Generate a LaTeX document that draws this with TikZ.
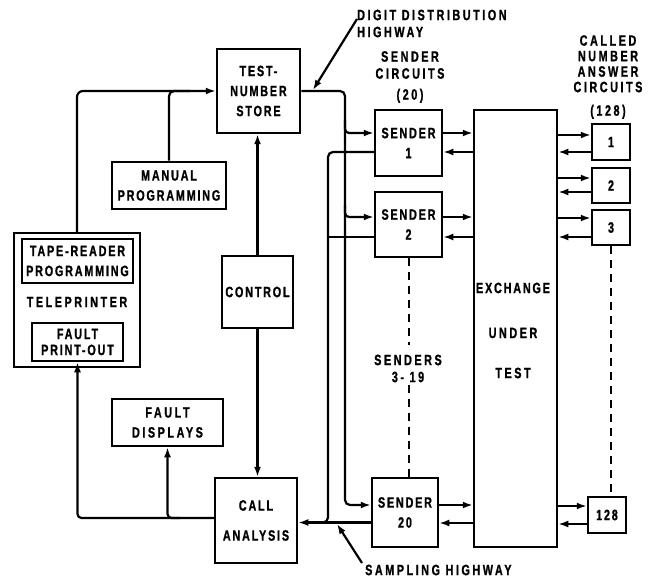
\documentclass[tikz,border=0pt]{standalone}
\usepackage{fontspec}
\newfontfamily\lab{Liberation Sans}[UprightFont={* Bold},FakeStretch=0.72,FakeBold=1,LetterSpace=12]
\newfontfamily\labw{Liberation Sans}[UprightFont={* Bold},FakeStretch=0.72,FakeBold=1,LetterSpace=17]
\usetikzlibrary{arrows.meta}
\begin{document}
\begin{tikzpicture}[x=1pt,y=-1pt,
  box/.style={draw,line width=2.5pt,inner sep=0pt,align=center,font=\lab\fontsize{15}{20}\selectfont},
  wire/.style={line width=2.2pt},
  arr/.style={wire,-{Latex[length=10pt,width=7pt]}},
  dsh/.style={line width=2pt,dash pattern=on 8pt off 6pt},
  txt/.style={inner sep=0pt,align=center,font=\lab\fontsize{15}{16}\selectfont},
  txw/.style={inner sep=0pt,align=center,font=\labw\fontsize{15}{16}\selectfont}]
\useasboundingbox (0,0) rectangle (655,580);

% boxes
\node[box,minimum width=83pt,minimum height=84pt] (store) at (258.5,91) {TEST-\\NUMBER\\STORE};
\node[box,minimum width=114pt,minimum height=47pt] (man) at (169,185.5) {MANUAL\\PROGRAMMING};
\node[box,minimum width=126pt,minimum height=134pt] (tele) at (77,300) {};
\node[box,minimum width=111pt,minimum height=44pt] (tape) at (77.5,261) {TAPE-READER\\PROGRAMMING};
\node[txw] (telet) at (77,302) {TELEPRINTER};
\node[box,minimum width=91pt,minimum height=38pt,font=\lab\fontsize{15}{16}\selectfont] (fpo) at (77.5,342) {FAULT\\PRINT-OUT};
\node[box,minimum width=71pt,minimum height=72pt] (ctrl) at (257.5,292) {CONTROL};
\node[box,minimum width=111pt,minimum height=47pt,font=\labw\fontsize{15}{20}\selectfont] (fd) at (167.5,422.5) {FAULT\\DISPLAYS};
\node[box,minimum width=82pt,minimum height=85pt,font=\lab\fontsize{15}{30}\selectfont] (ca) at (256,520.5) {CALL\\ANALYSIS};
\node[box,minimum width=67pt,minimum height=66pt] (s1) at (408.5,143) {SENDER\\1};
\node[box,minimum width=67pt,minimum height=65pt] (s2) at (408.5,224.5) {SENDER\\2};
\node[box,minimum width=66pt,minimum height=69pt] (s20) at (405,512.5) {SENDER\\20};
\node[box,minimum width=83pt,minimum height=437pt] (ex) at (515.5,328.5) {};
\node[txt] (ext1) at (513,288) {EXCHANGE};
\node[txw] (ext2) at (513,333) {UNDER};
\node[txw] (ext3) at (513,373) {TEST};
\node[box,minimum width=38pt,minimum height=36pt] (a1) at (611,142) {1};
\node[box,minimum width=38pt,minimum height=35pt] (a2) at (611,185.5) {2};
\node[box,minimum width=38pt,minimum height=35pt] (a3) at (611,227.5) {3};
\node[box,minimum width=38pt,minimum height=36pt] (a128) at (607,515) {128};

% labels
\node[txw,anchor=west] (dd1) at (357,15) {DIGIT DISTRIBUTION};
\node[txw,anchor=west] (dd2) at (357,32) {HIGHWAY};
\node[txw,font=\labw\fontsize{15}{17}\selectfont] (sc) at (410,77) {SENDER\\CIRCUITS\\[4pt](20)};
\node[txw,font=\labw\fontsize{15}{15.5}\selectfont] (cn) at (608,77) {CALLED\\NUMBER\\ANSWER\\CIRCUITS\\[8pt](128)};
\node[txw,font=\labw\fontsize{15}{17}\selectfont] (snd) at (408,368.5) {SENDERS\\3- 19};
\node[txw,anchor=west] (sh) at (365,570) {SAMPLING HIGHWAY};

% leader lines
\coordinate (dl) at (357,19);
\coordinate (dt) at (313,90);
\draw[arr] (dl) -- (dt);
\coordinate (sl) at (362,563);
\coordinate (st) at (337,524);
\draw[arr] (sl) -- (st);

% digit distribution highway
\coordinate (dhc) at (345,91);
\draw[arr,rounded corners=5pt] (store.east) -- (dhc) |- ([yshift=7.5pt]s20.west);
\coordinate (b1) at (345,120);
\draw[arr,rounded corners=4pt] (b1) |- ([yshift=10pt]s1.west);
\coordinate (b2) at (345,205);
\draw[arr,rounded corners=4pt] (b2) |- ([yshift=7.5pt]s2.west);

% sampling highway
\coordinate (rv) at (328,522.5);
\coordinate (rj) at (315,522.5);
\draw[wire,rounded corners=5pt] ([yshift=-9pt]s1.west) -| (rv) -- (rj);
\draw[wire] ([yshift=-12.5pt]s2.west) -- ([yshift=-12.5pt]s2.west -| rv);
\draw[arr] ([yshift=-10pt]s20.west) -- ([yshift=-10pt]s20.west -| ca.east);

% senders <-> exchange
\foreach \s/\a/\b in {s1/10/-9, s2/7.5/-12.5, s20/7.5/-10.5} {
  \draw[arr] ([yshift=\a pt]\s.east) -- ([yshift=\a pt]\s.east -| ex.west);
  \draw[arr] ([yshift=\b pt]\s.east -| ex.west) -- ([yshift=\b pt]\s.east);
}
% exchange <-> answer circuits
\foreach \s/\a/\b in {a1/7/-10, a2/7.5/-6.5, a3/9.5/-9.5, a128/9/-9} {
  \draw[arr] ([yshift=\a pt]\s.west -| ex.east) -- ([yshift=\a pt]\s.west);
  \draw[arr] ([yshift=\b pt]\s.west) -- ([yshift=\b pt]\s.west -| ex.east);
}

% control
\draw[arr] (ctrl.north) -- (ctrl.north |- store.south);
\draw[arr] (ctrl.south) -- (ctrl.south |- ca.north);

% programming inputs
\coordinate (tc) at (77,91);
\draw[arr,rounded corners=6pt] (tele.north) -- (tc) -- (store.west);
\coordinate (mj) at (190,91);
\draw[wire,rounded corners=5pt] (man.north) |- (mj);

% fault outputs
\draw[arr,rounded corners=4pt] ([yshift=2.5pt]ca.west) -| (fpo.south);
\coordinate (fdj) at (180,518);
\draw[arr,rounded corners=4pt] (fdj) -| (fd.south);

% dashed continuation
\coordinate (d1) at (408.5,345);
\coordinate (d2) at (408.5,385);
\draw[dsh] (s2.south) -- (d1);
\draw[dsh] (d2) -- (d2 |- s20.north);
\draw[dsh] (a3.south) -- (a3.south |- a128.north);
\end{tikzpicture}
\end{document}
